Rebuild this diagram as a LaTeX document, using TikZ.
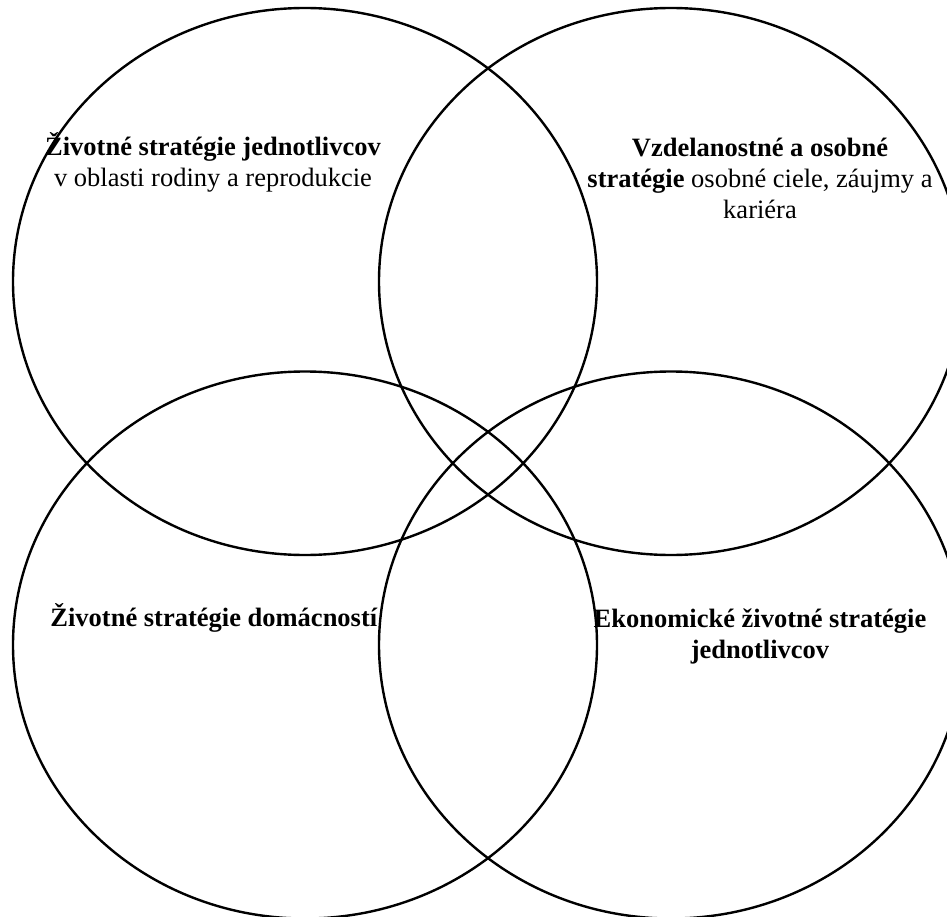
\documentclass[tikz,border=0pt]{standalone}
\usepackage{fontspec}
\setmainfont{Liberation Serif}
\usetikzlibrary{shapes.geometric}
\tikzset{
  venn/.style={ellipse, draw=black, line width=2.4pt, minimum width=584pt, minimum height=547pt, inner sep=0pt},
  lbl/.style={align=center, font=\fontsize{26.5}{31}\selectfont, inner sep=0pt}
}
\begin{document}
\begin{tikzpicture}[x=1pt,y=-1pt]
\useasboundingbox (0,0) rectangle (947,917);
\clip (0,0) rectangle (947,917);
\fill[white] (0,0) rectangle (947,917);
\node[venn] (tl) at (305,281.5) {};
\node[venn] (tr) at (671,281.5) {};
\node[venn] (bl) at (305,645) {};
\node[venn] (br) at (671,645) {};
\node[lbl] (ttl) at (213,162) {\textbf{Životné stratégie jednotlivcov}\\v oblasti rodiny a reprodukcie};
\node[lbl] (ttr) at (760,178) {\textbf{Vzdelanostné a osobné}\\\textbf{stratégie} osobné ciele, záujmy a\\kariéra};
\node[lbl] (tbl) at (214,618) {\textbf{Životné stratégie domácností}};
\node[lbl] (tbr) at (760,636) {\textbf{Ekonomické životné stratégie}\\\textbf{jednotlivcov}};
\end{tikzpicture}
\end{document}
